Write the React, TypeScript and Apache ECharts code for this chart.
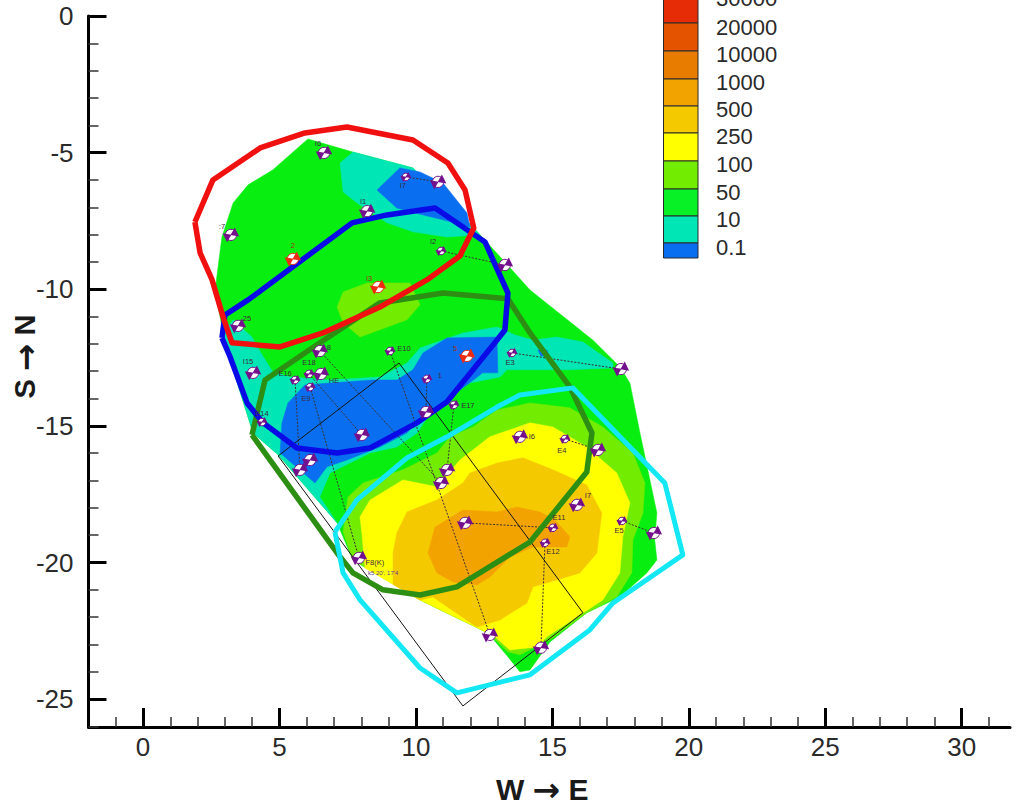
import React, { useEffect, useRef } from "react";
import * as echarts from "echarts";

type P = [number, number];

const xMajor = [0, 5, 10, 15, 20, 25, 30];
const xMinor = [-1, 1, 2, 3, 4, 6, 7, 8, 9, 11, 12, 13, 14, 16, 17, 18, 19, 21, 22, 23, 24, 26, 27, 28, 29, 31];
const yMajor = [0, -5, -10, -15, -20, -25];
const yMinor = [-1, -2, -3, -4, -6, -7, -8, -9, -11, -12, -13, -14, -16, -17, -18, -19, -21, -22, -23, -24, -26];

const legendLabels = ["30000", "20000", "10000", "1000", "500", "250", "100", "50", "10", "0.1"];
const legendColors = ["#e62c06", "#e35300", "#e87c00", "#f3a300", "#f5c900", "#ffff00", "#72ec00", "#08f026", "#00e6b4", "#0a6ef0"];

const domain: P[] = [[6.04,-4.5],[7.69,-4.98],[9.89,-5.56],[12.09,-7.72],[13.19,-8.93],[14.18,-10.03],[16.48,-11.86],[17.47,-12.84],[17.84,-13.43],[18.21,-15.26],[18.83,-18.19],[18.75,-19.17],[18.83,-19.91],[18.46,-20.38],[17.47,-21.26],[16.26,-21.84],[14.91,-22.91],[14.18,-23.93],[13.81,-24],[13.37,-23.45],[12.64,-22.58],[10.15,-21.37],[7.69,-19.91],[7.11,-18.55],[4.95,-16.06],[4.03,-15.26],[3.19,-12.59],[2.93,-11.6],[2.64,-10.03],[2.89,-8.09],[3.3,-6.84],[3.85,-6.18],[4.76,-5.63]];
const tealNorth: P[] = [[7.22,-5.38],[7.69,-4.98],[9.89,-5.56],[12.09,-7.72],[12.34,-8.01],[11.14,-8.09],[9.89,-7.9],[8.94,-7.57],[7.84,-6.84],[7.33,-6.44]];
const blueNorth: P[] = [[8.57,-6.37],[9.41,-5.56],[10.15,-5.71],[10.99,-6.11],[11.87,-7.21],[11.98,-7.72],[10.99,-7.46],[10.26,-7.28],[9.3,-7.03]];
const tealSouth: P[] = [[2.93,-11.6],[3.3,-11.12],[3.99,-11.75],[4.36,-12.4],[4.76,-13.03],[5.38,-13.21],[6.85,-13.32],[8.68,-13.21],[9.67,-12.7],[10.15,-12.15],[11.72,-11.6],[12.97,-11.38],[13.63,-11.67],[14.29,-11.86],[15.16,-11.75],[16.12,-11.93],[17.22,-12.7],[17.22,-12.88],[15.64,-12.95],[13.33,-12.95],[13.08,-13.21],[11.98,-13.43],[11.14,-13.98],[10.77,-14.16],[10.04,-15.26],[9.3,-15.77],[8.32,-15.99],[6.85,-16.72],[6.48,-17.6],[7.11,-18.55],[4.95,-16.06],[4.03,-15.26],[3.19,-12.59]];
const blueSouth: P[] = [[5.02,-15.99],[5.09,-14.89],[5.31,-14.16],[5.93,-13.5],[6.85,-13.43],[8.42,-13.32],[9.3,-13.32],[9.89,-12.95],[10.26,-12.33],[11.14,-11.78],[12.97,-11.75],[13,-13.06],[12.45,-13.06],[11.14,-14.05],[10.15,-14.67],[9.67,-15.26],[8.68,-15.77],[7.47,-16.25],[6.74,-16.5],[6.3,-17.09]];
const blueSpot: P[] = [[14.47,-12.22],[14.8,-12.22],[14.87,-12.44],[14.58,-12.44]];
const limeNorth: P[] = [[7.11,-10.65],[7.33,-10.1],[8.21,-9.77],[9.78,-9.77],[10.15,-10.57],[9.67,-11.12],[7.95,-11.75],[7.33,-11.23]];
const limeSouth: P[] = [[7.33,-18.88],[7.51,-17.6],[8.06,-17.09],[9.52,-16.61],[10.77,-15.99],[11.25,-15.4],[12.09,-15.04],[12.97,-14.42],[14.18,-14.16],[15.64,-14.34],[16.85,-15.04],[17.95,-15.99],[18.39,-17.09],[18.32,-18.19],[17.95,-19.17],[17.91,-20.38],[17.36,-21.26],[16.26,-21.84],[14.91,-22.83],[13.81,-23.38],[13.37,-23.27],[12.64,-22.58],[10.15,-21.37],[7.69,-19.91]];
const yellowZone: P[] = [[8.02,-18.92],[7.95,-18.33],[8.32,-17.71],[9.52,-16.98],[10.77,-17.23],[11.61,-16.25],[12.71,-15.4],[14.18,-14.89],[15.02,-15.04],[16.26,-15.77],[17.36,-16.72],[17.84,-17.82],[17.58,-19.06],[17.47,-20.38],[16.85,-21.37],[15.9,-21.99],[14.8,-22.72],[14.43,-23.09],[13.44,-23.2],[12.89,-22.72],[12.64,-22.58],[10.15,-21.37],[8.13,-20.2]];
const goldZone: P[] = [[9.16,-19.65],[9.3,-18.92],[9.67,-18.15],[10.77,-17.71],[11.72,-17.09],[11.98,-16.72],[12.97,-16.36],[13.92,-16.17],[15.02,-16.61],[16.26,-17.16],[16.81,-18.19],[16.63,-19.65],[16.01,-20.38],[14.91,-20.71],[14.29,-20.89],[14.07,-21.48],[13.08,-22.1],[12.23,-22.36],[10.62,-21.26],[10.15,-21.37],[9.16,-20.8]];
const orangeZone: P[] = [[10.44,-19.65],[10.7,-18.7],[11.72,-18.08],[12.97,-18.15],[13.7,-17.97],[14.54,-18.15],[15.09,-18.44],[15.64,-19.06],[15.53,-19.43],[14.29,-19.43],[13.44,-19.8],[12.71,-20.53],[12.23,-20.82],[11.36,-20.71],[10.77,-20.38]];

const redRing: P[] = [[1.9,-7.54],[2.56,-6],[4.29,-4.83],[5.93,-4.28],[7.47,-4.06],[9.89,-4.54],[11.17,-5.38],[11.8,-6.37],[12.12,-7.76],[11.61,-8.78],[10.4,-9.66],[8.68,-10.65],[6.59,-11.6],[5.02,-12.11],[3.26,-11.96],[2.93,-11.01],[2.53,-9.66],[2.09,-8.67],[1.9,-7.54]];
const blueRing: P[] = [[2.89,-11.78],[3,-10.94],[3.85,-10.39],[7.66,-7.57],[8.94,-7.28],[10.7,-7.03],[12.53,-8.27],[13.37,-10.14],[13.26,-11.49],[12.97,-11.86],[11.14,-14.12],[10.04,-14.89],[8.32,-15.81],[7.11,-15.99],[5.64,-15.81],[4.4,-14.89],[3.81,-14.16],[3.19,-12.48],[2.89,-11.78]];
const greenRing: P[] = [[3.99,-15.33],[4.47,-13.32],[6.48,-11.96],[8.68,-10.5],[10.99,-10.14],[13.37,-10.35],[14.18,-11.6],[15.64,-13.57],[16.45,-15.26],[16.26,-16.69],[14.18,-19.25],[11.5,-20.89],[10.15,-21.19],[8.79,-21],[7.69,-20.38],[7.11,-19.65],[3.99,-15.33]];
const cyanRing: P[] = [[7.03,-18.88],[7.84,-17.71],[9.67,-16.17],[11.14,-15.4],[12.97,-14.31],[13.81,-13.87],[15.75,-13.61],[19.12,-17.09],[19.78,-19.72],[17.22,-21.48],[16.37,-22.47],[14.18,-24.11],[11.5,-24.77],[10.15,-23.86],[7.95,-21.37],[7.33,-20.38],[7.03,-18.88]];
const blackBox: P[] = [[4.95,-16.1],[9.38,-12.7],[16.12,-21.84],[11.72,-25.25],[4.95,-16.1]];

const wellX = [6.63,9.63,10.81,8.21,3.22,5.49,8.61,10.92,13.26,3.48,6.48,9.05,4.03,5.57,6.08,6.52,6.12,4.36,8.02,10.4,10.37,11.39,11.87,13.52,17.51,5.75,6.12,10.92,11.14,13.81,15.46,16.67,15.9,15.02,14.73,11.8,17.55,18.72,7.91,12.71,14.58];
const wellY = [-5.01,-5.89,-6.07,-7.14,-8.01,-8.89,-9.92,-8.6,-9.11,-11.34,-12.26,-12.26,-13.06,-13.32,-13.1,-13.1,-13.58,-14.86,-15.33,-13.28,-14.49,-14.23,-12.44,-12.33,-12.92,-16.61,-16.25,-17.09,-16.61,-15.4,-15.48,-15.88,-17.89,-18.73,-19.28,-18.55,-18.48,-18.92,-19.83,-22.65,-23.12];
const wellNames = ["I6","I7","","I1",":7","2","I3","I2","","25","8","E10","I15","E16","E18","HE","E9","E14","","1","","E17","5","E3","","","","","","I6","E4","","I7","E11","E12","","E5","","F8(K)","",""];
const wellKinds = ["b","s","b","b","b","r","r","s","b","b","b","s","b","s","s","b","s","s","b","s","b","s","r","s","b","b","b","b","b","b","s","b","b","s","s","b","s","b","b","b","b"];
const leaderPairs: [number, number][] = [[1,2],[7,8],[23,24],[30,31],[36,37],[35,33],[34,40],[21,28],[11,39],[10,27],[14,18],[13,25],[16,38],[19,20]];

// label offsets in pixels, same order as wellNames
const labelDx = [-6,-3,0,-4,-9,0,-9,-8,0,9,9,14,-5,-10,0,13,-4,0,0,13,0,14,-12,-2,0,0,0,0,0,12,-3,0,11,6,8,0,-3,0,16,0,0];
const labelDy = [-9,9,0,-10,-8,-13,-9,-9,0,-7,-4,-3,-11,-6,-11,7,11,-9,0,-3,0,1,-7,10,0,0,0,0,0,0,12,0,-9,-10,9,0,10,0,5,0,0];

const bodyFont = '"Liberation Sans", Arial, sans-serif';
const arrowStyle = { fontFamily: '"DejaVu Sans", sans-serif', fontWeight: "bold", fontSize: 33, color: "#1a1a1a" };
const wellPurple = "#75108c";

let zCounter = 2;

const zoneSeries = (points: P[], color: string) => ({
  type: "custom",
  silent: true,
  z: zCounter++,
  clip: false,
  data: [0],
  renderItem: (_p: any, api: any) => ({
    type: "polygon",
    shape: { points: points.map((pt) => api.coord(pt)) },
    style: { fill: color, stroke: color, lineWidth: 0.5 },
  }),
});

const ringSeries = (points: P[], color: string, width: number) => ({
  type: "line",
  silent: true,
  z: zCounter++,
  data: points,
  symbol: "none",
  clip: false,
  lineStyle: { color, width, join: "round" },
});

function buildOption() {
  zCounter = 2;
  const series: any[] = [
    zoneSeries(domain, "#08ee10"),
    zoneSeries(tealNorth, legendColors[8]),
    zoneSeries(blueNorth, legendColors[9]),
    zoneSeries(tealSouth, legendColors[8]),
    zoneSeries(blueSouth, legendColors[9]),
    zoneSeries(blueSpot, legendColors[9]),
    zoneSeries(limeNorth, legendColors[6]),
    zoneSeries(limeSouth, legendColors[6]),
    zoneSeries(yellowZone, legendColors[5]),
    zoneSeries(goldZone, legendColors[4]),
    zoneSeries(orangeZone, legendColors[3]),
  ];
  leaderPairs.forEach(([a, b]) => {
    series.push({
      type: "line",
      silent: true,
      z: zCounter++,
      symbol: "none",
      data: [[wellX[a], wellY[a]], [wellX[b], wellY[b]]],
      lineStyle: { color: "#3a3030", width: 1, type: [2, 1.5] },
    });
  });
  series.push(ringSeries(blackBox, "#151515", 1));
  series.push(ringSeries(greenRing, "#2c8f14", 5.5));
  series.push(ringSeries(cyanRing, "#14e8f4", 5));
  series.push(ringSeries(blueRing, "#0a0ae6", 5.5));
  series.push(ringSeries(redRing, "#f01010", 5.5));
  series.push({
    type: "custom",
    silent: true,
    z: zCounter++,
    clip: false,
    data: wellX.map((x, i) => [x, wellY[i], i]),
    encode: { x: 0, y: 1 },
    renderItem: (_p: any, api: any) => {
      const [cx, cy] = api.coord([api.value(0), api.value(1)]);
      const i = api.value(2);
      const kind = wellKinds[i];
      const r = kind === "s" ? 3.8 : 5.6;
      const c = kind === "r" ? "#ee2a10" : wellPurple;
      const e = r * 1.2;
      const tilt = -0.45;
      const rot = (dx: number, dy: number) => [
        cx + dx * Math.cos(tilt) - dy * Math.sin(tilt),
        cy + dx * Math.sin(tilt) + dy * Math.cos(tilt),
      ];
      const children: any[] = [
        { type: "circle", shape: { cx, cy, r }, style: { fill: "#ffffff", stroke: c, lineWidth: 1 } },
        {
          type: "polygon",
          shape: { points: [rot(-e, -e * 0.75), rot(0.5, 0), rot(-e, e * 0.75)] },
          style: { fill: c },
        },
        {
          type: "polygon",
          shape: { points: [rot(e, -e * 0.75), rot(-0.5, 0), rot(e, e * 0.75)] },
          style: { fill: c },
        },
      ];
      if (wellNames[i]) {
        children.push({
          type: "text",
          style: {
            x: cx + labelDx[i],
            y: cy + labelDy[i],
            text: wellNames[i],
            fill: kind === "r" ? "#a03018" : "#3c2a40",
            font: `7.5px ${bodyFont}`,
            align: "center",
            verticalAlign: "middle",
          },
        });
      }
      if (wellNames[i] === "F8(K)") {
        children.push({
          type: "text",
          style: {
            x: cx + 9,
            y: cy + 15,
            text: "k5 20', 17'4",
            fill: "#6a3a90",
            font: `6px ${bodyFont}`,
            align: "left",
            verticalAlign: "middle",
          },
        });
      }
      return { type: "group", children };
    },
  });

  const rowTop = [-5, 23, 51, 79, 106, 133, 161, 189, 216, 243];
  const rowBottom = [23, 51, 79, 106, 133, 161, 189, 216, 243, 258];
  const rowText = [-2, 27, 54, 82, 109, 136, 164, 192, 219, 247];
  const graphic: any[] = [];
  legendLabels.forEach((t, i) => {
    graphic.push({
      type: "rect",
      shape: { x: 663.5, y: rowTop[i], width: 34.5, height: rowBottom[i] - rowTop[i] },
      style: { fill: legendColors[i], stroke: "#2a2a2a", lineWidth: 1 },
      z: 50,
    });
    graphic.push({
      type: "text",
      style: { x: 716, y: rowText[i], text: t, fill: "#2a2a2a", font: `22px ${bodyFont}`, verticalAlign: "middle" },
      z: 50,
    });
  });

  const xRange = { min: -2, max: 31.77 };
  const yRange = { min: -26.02, max: 0 };
  const hidden = { show: false };
  return {
    animation: false,
    backgroundColor: "#ffffff",
    grid: { left: 88.5, top: 16, width: 921.5, height: 711, containLabel: false, outerBoundsMode: "none" },
    xAxis: [
      {
        type: "value",
        ...xRange,
        name: "W {a|→} E",
        nameLocation: "middle",
        nameGap: 46,
        nameMoveOverlap: false,
        nameTextStyle: { fontFamily: bodyFont, fontWeight: "bold", fontSize: 30, color: "#1a1a1a", padding: [0, 14, 0, 0], rich: { a: arrowStyle } },
        axisLine: { show: true, onZero: false, lineStyle: { color: "#000", width: 3 } },
        axisTick: { show: true, inside: true, length: 19, lineStyle: { color: "#000", width: 3 }, customValues: xMajor },
        axisLabel: { show: true, margin: 7, fontFamily: bodyFont, fontSize: 26, color: "#2a2a2a", customValues: xMajor },
        splitLine: hidden,
      },
      {
        type: "value",
        ...xRange,
        position: "bottom",
        axisLine: { show: false, onZero: false },
        axisTick: { show: true, inside: true, length: 10, lineStyle: { color: "#333", width: 1.5 }, customValues: xMinor },
        axisLabel: hidden,
        splitLine: hidden,
      },
    ],
    yAxis: [
      {
        type: "value",
        ...yRange,
        name: "S {a|→} N",
        nameLocation: "middle",
        nameGap: 47,
        nameMoveOverlap: false,
        nameRotate: 90,
        nameTextStyle: { fontFamily: bodyFont, fontWeight: "bold", fontSize: 29, color: "#1a1a1a", padding: [0, 0, 0, 30], rich: { a: arrowStyle } },
        axisLine: { show: true, onZero: false, lineStyle: { color: "#000", width: 3 } },
        axisTick: { show: true, inside: true, length: 18, lineStyle: { color: "#000", width: 3 }, customValues: yMajor },
        axisLabel: { show: true, margin: 15, fontFamily: bodyFont, fontSize: 26, color: "#2a2a2a", customValues: yMajor },
        splitLine: hidden,
      },
      {
        type: "value",
        ...yRange,
        position: "left",
        axisLine: { show: false, onZero: false },
        axisTick: { show: true, inside: true, length: 10, lineStyle: { color: "#333", width: 1.5 }, customValues: yMinor },
        axisLabel: hidden,
        splitLine: hidden,
      },
    ],
    series,
    graphic,
  };
}

export default function App() {
  const ref = useRef<HTMLDivElement>(null);
  useEffect(() => {
    const chart = echarts.init(ref.current!, undefined, { renderer: "svg" });
    chart.setOption(buildOption() as any);
    return () => chart.dispose();
  }, []);
  return <div ref={ref} style={{ position: "absolute", left: 0, top: 0, width: 1017, height: 809 }} />;
}
